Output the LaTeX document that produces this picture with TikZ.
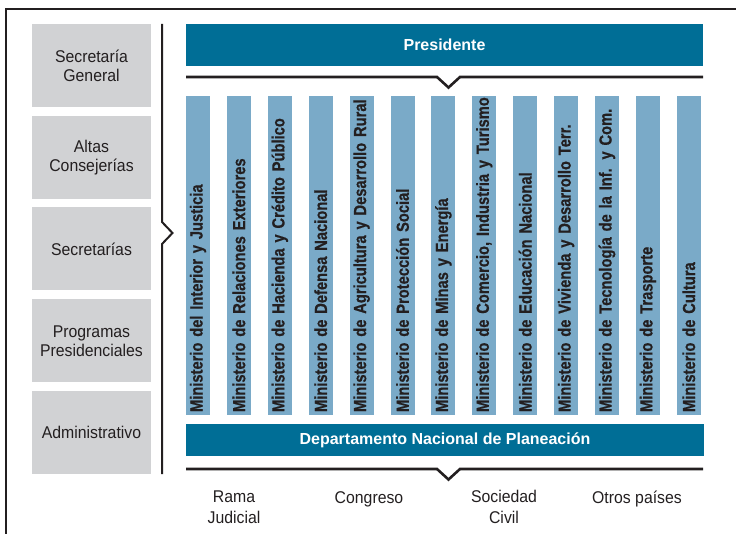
\documentclass[tikz,border=0pt]{standalone}
\usepackage{fontspec}
\setmainfont{Liberation Sans}
\newfontfamily\narrowfont{Liberation Sans}[UprightFont={* Bold}, FakeStretch=0.84, FakeBold=0.6]
\newfontfamily\boxfont{Liberation Sans}[FakeStretch=0.93]
\usepackage{tikz}
\usetikzlibrary{positioning}

\definecolor{presblue}{HTML}{006E96}
\definecolor{minblue}{HTML}{7AAAC8}
\definecolor{boxgray}{HTML}{D1D2D4}
\definecolor{inkgray}{HTML}{231F20}

\tikzset{
  graybox/.style={fill=boxgray, minimum width=119pt, minimum height=83pt, inner sep=0pt,
    align=center, text=inkgray, font=\boxfont\fontsize{17}{19}\selectfont},
  bluebar/.style={fill=presblue, text=white, inner sep=0pt, font=\bfseries\fontsize{16}{19}\selectfont},
  minbar/.style={fill=minblue, rotate=90, text width=313pt, align=left, minimum height=24pt,
    inner xsep=3pt, inner ysep=0pt, text=inkgray, font=\narrowfont\fontsize{17.5}{19}\selectfont},
  bracket/.style={draw=inkgray, line width=2.6pt},
  outside/.style={align=center, text=inkgray, font=\boxfont\fontsize{17}{21}\selectfont}
}

\begin{document}
\begin{tikzpicture}[x=1pt, y=-1pt]
    \useasboundingbox (0,0) rectangle (736,534);
    % frame
    \draw[draw=inkgray, line width=1.6pt] (736,9) -- (6,9) -- (6,534);

    % left column
    \foreach \txt [count=\i] in {Secretaría\\General, Altas\\Consejerías, Secretarías,
        Programas\\Presidenciales, Administrativo}
        \node[graybox] (s\i) at (91.5, {65.5+91.75*(\i-1)}) {\txt};
    \draw[bracket, line width=2pt] (162,24) -- (162,222) -- (172.5,233) -- (162,244) -- (162,474);

    % presidente
    \node[bluebar, minimum width=517pt, minimum height=42pt] (pres) at (444.5,45) {Presidente};
    \draw[bracket] (186,77) -- (437,77) -- (448.5,87.5) -- (460,77) -- (703,77);

    % ministerios
    \foreach \name [count=\i] in {Ministerio del Interior y Justicia,
        Ministerio de Relaciones Exteriores,
        Ministerio de Hacienda y Crédito Público,
        Ministerio de Defensa Nacional,
        Ministerio de Agricultura y Desarrollo Rural,
        Ministerio de Protección Social,
        Ministerio de Minas y Energía,
        {Ministerio de Comercio, Industria y Turismo},
        Ministerio de Educación Nacional,
        Ministerio de Vivienda y Desarrollo Terr.,
        Ministerio de Tecnología de la Inf. y Com.,
        Ministerio de Trasporte,
        Ministerio de Cultura}
        \node[minbar] (m\i) at ({198+40.9*(\i-1)}, 255.5) {\mbox{\name}};

    % planeacion
    \node[bluebar, minimum width=518pt, minimum height=32pt] (dnp) at (445,440)
        {Departamento Nacional de Planeación};
    \draw[bracket] (186,469) -- (437,469) -- (448.5,479.5) -- (460,469) -- (703,469);

    % others
    \node[outside] (rama) at (234,507) {Rama\\Judicial};
    \node[outside] (congreso) at (369,499) {Congreso};
    \node[outside] (sociedad) at (504,507) {Sociedad\\Civil};
    \node[outside] (otros) at (637,499) {Otros países};
\end{tikzpicture}
\end{document}
